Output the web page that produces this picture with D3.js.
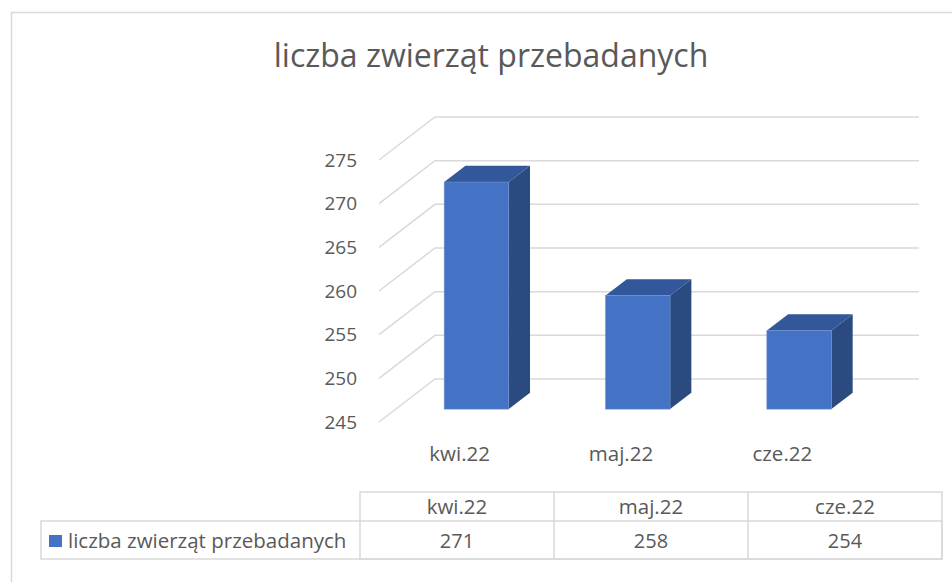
<!DOCTYPE html>
<html>
<head>
<meta charset="utf-8">
<script src="https://cdn.jsdelivr.net/npm/d3@7"></script>
<style>
  body { margin: 0; background: #fff; }
  svg text { font-family: "Open Sans", "Noto Sans", sans-serif; fill: #595959; }
</style>
</head>
<body>
<svg id="chart" width="952" height="582"></svg>
<script>
// chart data
var categories = ["kwi.22", "maj.22", "cze.22"];
var values = [271, 258, 254];
var seriesName = "liczba zwierząt przebadanych";
var yTicks = [245, 250, 255, 260, 265, 270, 275];

var svg = d3.select("#chart");

// outer chart border (right and bottom edges fall outside the picture)
svg.append("rect")
    .attr("x", 11.5).attr("y", 12.5)
    .attr("width", 1000).attr("height", 1000)
    .attr("fill", "none")
    .attr("stroke", "#d9d9d9")
    .attr("stroke-width", 1.5);

// title
svg.append("text")
    .attr("x", 491).attr("y", 67)
    .attr("text-anchor", "middle")
    .style("font-size", "32px")
    .text(seriesName);

// front plane scales + depth vector of the 3d box
var y = d3.scaleLinear().domain([245, 275]).range([422, 160]);
var x = d3.scaleBand().domain(categories).range([379, 863])
    .paddingInner(0.6).paddingOuter(0.3);
var depth = { dx: 56, dy: -43 };

// gridlines: side wall diagonal + back wall horizontal
var grid = svg.append("g")
    .attr("stroke", "#d9d9d9")
    .attr("stroke-width", 1.5)
    .attr("fill", "none");

grid.selectAll("path")
    .data(yTicks)
    .enter().append("path")
    .attr("d", function (d) {
        var x0 = x.range()[0], y0 = y(d);
        return "M" + x0 + "," + y0 +
            "L" + (x0 + depth.dx) + "," + (y0 + depth.dy) +
            "L" + (x.range()[1] + depth.dx) + "," + (y0 + depth.dy);
    });

// y axis labels
svg.append("g").selectAll("text")
    .data(yTicks)
    .enter().append("text")
    .attr("x", 357)
    .attr("y", function (d) { return y(d); })
    .attr("dy", "0.35em")
    .attr("text-anchor", "end")
    .style("font-size", "19px")
    .text(function (d) { return d; });

// 3d bars
var d0 = 0.3, d1 = 0.68;
var bars = svg.append("g").selectAll("g")
    .data(categories.map(function (c, i) { return { cat: c, val: values[i] }; }))
    .enter().append("g");

function pt(px, py) { return px + "," + py; }

bars.each(function (d) {
    var g = d3.select(this);
    var ox = depth.dx * d0, oy = depth.dy * d0;
    var sx = depth.dx * (d1 - d0), sy = depth.dy * (d1 - d0);
    var xl = x(d.cat) + ox, xr = x(d.cat) + x.bandwidth() + ox;
    var yt = y(d.val) + oy, yb = y(245) + oy;

    // side
    g.append("polygon")
        .attr("points", [pt(xr, yt), pt(xr + sx, yt + sy), pt(xr + sx, yb + sy), pt(xr, yb)].join(" "))
        .attr("fill", "#2b4a80");
    // top
    g.append("polygon")
        .attr("points", [pt(xl, yt), pt(xl + sx, yt + sy), pt(xr + sx, yt + sy), pt(xr, yt)].join(" "))
        .attr("fill", "#32579a");
    // front
    g.append("rect")
        .attr("x", xl).attr("y", yt)
        .attr("width", xr - xl).attr("height", yb - yt)
        .attr("fill", "#4472c4")
        .attr("stroke", "#6b8fd0")
        .attr("stroke-width", 0.6);
});

// category labels
svg.append("g").selectAll("text")
    .data(categories)
    .enter().append("text")
    .attr("x", function (d) { return x(d) + x.bandwidth() / 2; })
    .attr("y", 461)
    .attr("text-anchor", "middle")
    .style("font-size", "20.5px")
    .text(function (d) { return d; });

// data table
var tx = d3.scaleBand().domain(categories).range([360, 942]);
var rowTop = 492, rowMid = 521, rowBot = 559, legendLeft = 41;
var table = svg.append("g")
    .attr("stroke", "#d9d9d9")
    .attr("stroke-width", 1.5)
    .attr("fill", "none");

table.append("rect")
    .attr("x", 360).attr("y", rowTop)
    .attr("width", 942 - 360).attr("height", rowBot - rowTop);
table.append("rect")
    .attr("x", legendLeft).attr("y", rowMid)
    .attr("width", 942 - legendLeft).attr("height", rowBot - rowMid);
table.selectAll("line")
    .data(categories.slice(1))
    .enter().append("line")
    .attr("x1", function (d) { return tx(d); })
    .attr("x2", function (d) { return tx(d); })
    .attr("y1", rowTop).attr("y2", rowBot);

svg.append("g").selectAll("text")
    .data(categories)
    .enter().append("text")
    .attr("x", function (d) { return tx(d) + tx.bandwidth() / 2; })
    .attr("y", (rowTop + rowMid) / 2)
    .attr("dy", "0.35em")
    .attr("text-anchor", "middle")
    .style("font-size", "20.5px")
    .text(function (d) { return d; });

svg.append("g").selectAll("text")
    .data(values)
    .enter().append("text")
    .attr("x", function (d, i) { return tx(categories[i]) + tx.bandwidth() / 2; })
    .attr("y", (rowMid + rowBot) / 2 + 1)
    .attr("dy", "0.35em")
    .attr("text-anchor", "middle")
    .style("font-size", "20px")
    .text(function (d) { return d; });

// legend key inside the table
svg.append("rect")
    .attr("x", 49).attr("y", 535)
    .attr("width", 13).attr("height", 12)
    .attr("fill", "#4472c4");
svg.append("text")
    .attr("x", 68).attr("y", 541)
    .attr("dy", "0.35em")
    .style("font-size", "20.5px")
    .text(seriesName);
</script>
</body>
</html>
